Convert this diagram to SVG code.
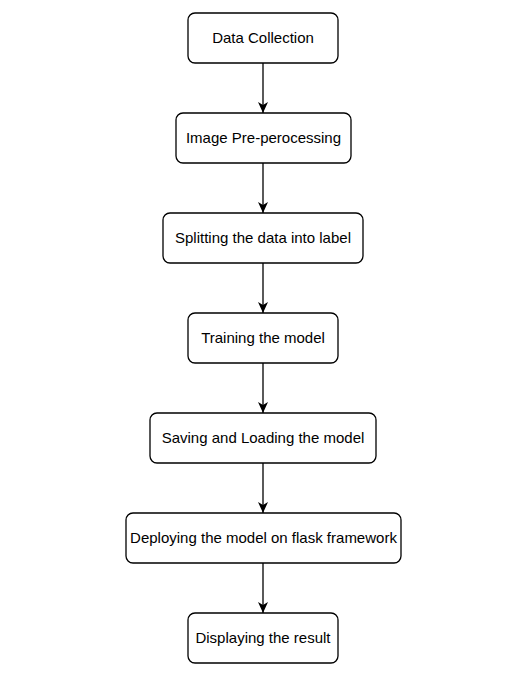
<svg xmlns="http://www.w3.org/2000/svg" width="520" height="692" viewBox="0 0 520 692">
<style>
.box{fill:#fff;stroke:#000;stroke-width:1.3}
.lbl{font-family:"Liberation Sans",Arial,sans-serif;font-size:15px;fill:#000;text-anchor:middle;dominant-baseline:central}
.edge{stroke:#000;stroke-width:1.3;fill:none}
</style>
<defs>
<marker id="arr" viewBox="0 0 11 10" refX="11" refY="5" markerWidth="11" markerHeight="10" markerUnits="userSpaceOnUse" orient="auto">
<path d="M0,0 L11,5 L0,10 L3,5 Z" fill="#000"/>
</marker>
</defs>
<rect width="520" height="692" fill="#fff"/>
<g id="connectors">
<line class="edge" x1="263" y1="63" x2="263" y2="113" marker-end="url(#arr)"/>
<line class="edge" x1="263" y1="163" x2="263" y2="213" marker-end="url(#arr)"/>
<line class="edge" x1="263" y1="263" x2="263" y2="313" marker-end="url(#arr)"/>
<line class="edge" x1="263" y1="363" x2="263" y2="413" marker-end="url(#arr)"/>
<line class="edge" x1="263" y1="463" x2="263" y2="513" marker-end="url(#arr)"/>
<line class="edge" x1="263" y1="563" x2="263" y2="613" marker-end="url(#arr)"/>
</g>
<g id="n1"><rect class="box" x="188" y="13" width="150" height="50" rx="7"/><text class="lbl" x="263" y="37">Data Collection</text></g>
<g id="n2"><rect class="box" x="176" y="113" width="175" height="50" rx="7"/><text class="lbl" x="263.5" y="137">Image Pre-perocessing</text></g>
<g id="n3"><rect class="box" x="163" y="213" width="200" height="50" rx="7"/><text class="lbl" x="263" y="237">Splitting the data into label</text></g>
<g id="n4"><rect class="box" x="188" y="313" width="150" height="50" rx="7"/><text class="lbl" x="263" y="337">Training the model</text></g>
<g id="n5"><rect class="box" x="150" y="413" width="226" height="50" rx="7"/><text class="lbl" x="263" y="437">Saving and Loading the model</text></g>
<g id="n6"><rect class="box" x="126" y="513" width="275" height="50" rx="7"/><text class="lbl" x="263.5" y="537">Deploying the model on flask framework</text></g>
<g id="n7"><rect class="box" x="188" y="613" width="150" height="50" rx="7"/><text class="lbl" x="263" y="637">Displaying the result</text></g>
</svg>
